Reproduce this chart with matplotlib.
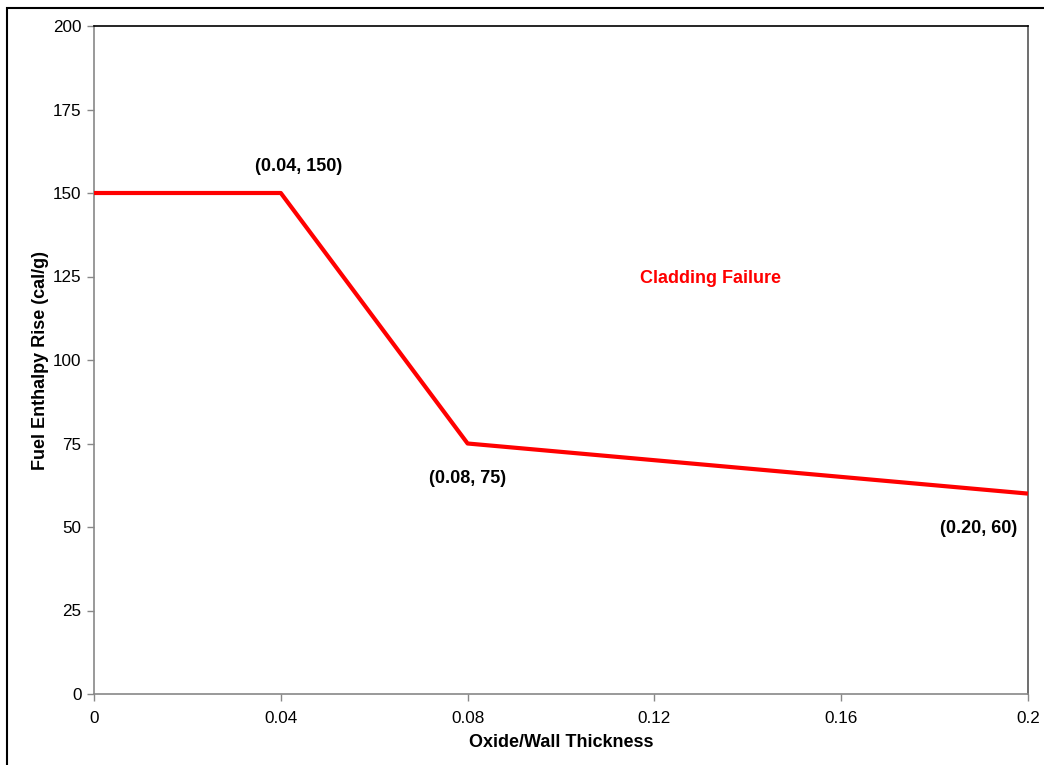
import matplotlib
matplotlib.use("Agg")
import matplotlib.pyplot as plt
from matplotlib.patches import Rectangle

plt.rcParams['font.family'] = ['Liberation Sans', 'DejaVu Sans']

x_vals = [0.0, 0.04, 0.08, 0.20]
y_vals = [150, 150, 75, 60]
x_ticks = [0, 0.04, 0.08, 0.12, 0.16, 0.2]
x_tick_labels = ["0", "0.04", "0.08", "0.12", "0.16", "0.2"]
y_ticks = [0, 25, 50, 75, 100, 125, 150, 175, 200]
point_labels = ["(0.04, 150)", "(0.08, 75)", "(0.20, 60)"]
region_label = "Cladding Failure"

W, H = 1044, 765
fig = plt.figure(figsize=(W / 100, H / 100), dpi=100)
fig.patch.set_facecolor("white")
fig.patches.append(Rectangle((7 / W, -0.1), 1.2, (H - 8) / H + 0.1, transform=fig.transFigure,
                             fill=False, edgecolor="black", linewidth=1.5, zorder=0))

ax = fig.add_axes([94 / W, (H - 694) / H, (1028 - 94) / W, (694 - 26) / H])
ax.plot(x_vals, y_vals, color="#ff0000", linewidth=3, solid_capstyle="butt", clip_on=False, zorder=3)
ax.set_xlim(0, 0.2)
ax.set_ylim(0, 200)
ax.set_xticks(x_ticks)
ax.set_xticklabels(x_tick_labels)
ax.set_yticks(y_ticks)
ax.tick_params(axis="both", direction="out", length=5, width=1, color="#888888",
               labelsize=12.3, labelcolor="black")
ax.tick_params(axis="x", pad=7)
ax.tick_params(axis="y", pad=4)
ax.spines["left"].set_color("#888888")
ax.spines["bottom"].set_color("#888888")
ax.spines["top"].set_color("black")
ax.spines["right"].set_color("#555555")
for s in ax.spines.values():
    s.set_linewidth(1.2)

fs = 13
ax.set_xlabel("Oxide/Wall Thickness", fontsize=fs, fontweight="bold", labelpad=6)
ax.set_ylabel("Fuel Enthalpy Rise (cal/g)", fontsize=fs, fontweight="bold", labelpad=3)

ax.annotate(point_labels[0], xy=(x_vals[1], y_vals[1]), xytext=(13, 19), textcoords="offset points",
            ha="center", va="center", fontsize=fs, fontweight="bold")
ax.annotate(point_labels[1], xy=(x_vals[2], y_vals[2]), xytext=(0, -25), textcoords="offset points",
            ha="center", va="center", fontsize=fs, fontweight="bold")
ax.annotate(point_labels[2], xy=(x_vals[3], y_vals[3]), xytext=(-8, -25), textcoords="offset points",
            ha="right", va="center", fontsize=fs, fontweight="bold")
ax.text(0.132, 124.5, region_label, color="#ff0000", fontsize=fs, fontweight="bold",
        ha="center", va="center")

fig.savefig("out.png", dpi=100)
